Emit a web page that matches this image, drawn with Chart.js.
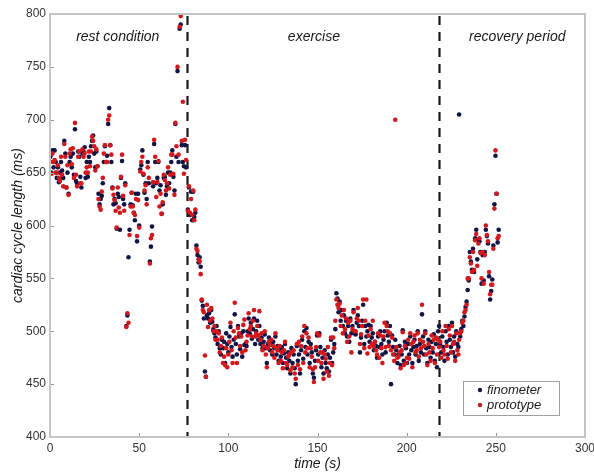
<!DOCTYPE html>
<html><head><meta charset="utf-8">
<script src="https://cdn.jsdelivr.net/npm/chart.js@4.4.1/dist/chart.umd.min.js"></script>
<style>html,body{margin:0;padding:0;background:#fff}#wrap{width:594px;height:475px;position:relative}</style>
</head><body><div id="wrap"><canvas id="c" width="594" height="475"></canvas></div>
<script>
// time (s) of each cardiac cycle
const time = [
// rest
0.2,0.8,1.4,2.0,2.6,3.2,3.8,4.4,
5.0,5.6,6.2,6.8,7.4,8.0,8.6,9.2,
9.8,10.4,11.0,11.6,12.2,12.8,13.4,14.0,
14.6,15.2,15.8,16.4,17.0,17.6,18.2,18.8,
19.4,20.0,20.6,21.2,21.8,22.4,23.0,23.6,
24.2,24.8,25.4,26.0,26.6,27.2,27.8,28.4,
29.0,29.6,30.2,30.8,31.4,32.0,32.6,33.2,
33.8,34.4,35.0,35.6,36.2,36.8,37.4,38.0,
38.6,39.2,39.8,40.4,41.0,41.6,42.2,42.8,
43.4,44.0,44.6,45.2,45.8,46.4,47.0,47.6,
48.2,48.8,49.4,50.0,50.6,51.2,51.8,52.4,
53.0,53.6,54.2,54.8,55.4,56.0,56.6,57.2,
57.8,58.4,59.0,59.6,60.2,60.8,61.4,62.0,
62.6,63.2,63.8,64.4,65.0,65.6,66.2,66.8,
67.4,68.0,68.6,69.2,69.8,70.3,70.9,71.5,
72.1,72.7,73.3,73.9,74.5,75.1,75.7,76.3,
// exercise
77.3,77.9,78.5,79.1,79.7,80.3,80.9,81.5,
82.1,82.7,83.3,83.9,84.5,85.1,85.7,86.3,
86.9,87.4,88.0,88.6,89.2,89.8,90.4,91.0,
91.6,92.2,92.8,93.4,94.0,94.6,95.2,95.8,
96.4,97.0,97.6,98.2,98.8,99.4,100.0,100.6,
101.2,101.8,102.4,103.0,103.6,104.2,104.8,105.4,
106.0,106.6,107.2,107.8,108.4,109.0,109.6,110.2,
110.8,111.4,112.0,112.6,113.2,113.8,114.4,115.0,
115.6,116.2,116.8,117.4,118.0,118.6,119.2,119.8,
120.4,121.0,121.6,122.2,122.8,123.4,124.0,124.6,
125.2,125.8,126.4,127.0,127.6,128.2,128.8,129.4,
130.0,130.6,131.2,131.8,132.4,133.0,133.6,134.2,
134.8,135.4,136.0,136.6,137.2,137.8,138.4,139.0,
139.6,140.2,140.8,141.4,142.0,142.6,143.2,143.8,
144.4,145.0,145.6,146.2,146.8,147.4,148.0,148.6,
149.2,149.8,150.4,151.0,151.6,152.2,152.8,153.4,
154.0,154.6,155.2,155.8,156.4,157.0,157.6,158.2,
158.8,159.4,160.0,160.6,161.2,161.8,162.4,163.0,
163.6,164.2,164.8,165.4,166.0,166.6,167.2,167.8,
168.4,169.0,169.6,170.2,170.8,171.4,172.0,172.6,
173.2,173.8,174.4,175.0,175.6,176.2,176.8,177.4,
178.0,178.6,179.2,179.8,180.4,181.0,181.6,182.2,
182.8,183.4,184.0,184.6,185.2,185.8,186.4,187.0,
187.6,188.2,188.8,189.4,190.0,190.6,191.2,191.8,
192.4,193.0,193.6,194.2,194.8,195.4,196.0,196.6,
197.2,197.8,198.4,199.0,199.6,200.2,200.8,201.4,
202.0,202.6,203.2,203.8,204.4,205.0,205.6,206.2,
206.8,207.4,208.0,208.6,209.2,209.8,210.4,211.0,
211.6,212.2,212.8,213.4,214.0,214.6,215.2,215.8,
216.4,217.0,217.6,
// recovery
218.2,218.8,219.4,220.0,220.6,221.2,221.8,222.4,
223.0,223.6,224.2,224.8,225.4,226.0,226.6,227.2,
227.8,228.4,229.0,229.4,230.0,230.6,231.2,231.8,
232.4,233.0,233.6,234.2,234.8,235.4,236.0,236.6,
237.2,237.8,238.4,239.0,239.6,240.2,240.8,241.4,
242.0,242.6,243.2,243.8,244.4,245.0,245.6,246.2,
246.8,247.4,248.0,248.6,249.2,249.8,250.4,251.0,
251.6
];

// cardiac cycle length (ms), finometer
const finometer = [
665,650,671,655,671,660,645,655,
641,650,660,652,645,680,668,636,
650,630,660,665,655,668,648,691,
642,640,670,665,646,636,668,670,
674,645,660,646,665,660,675,680,
685,668,655,670,656,630,620,625,
628,640,660,675,660,666,696,711,
676,660,636,620,625,621,597,630,
627,596,645,661,625,620,640,505,
515,570,596,620,631,619,612,605,
630,585,630,600,653,657,671,648,
631,640,625,660,640,566,580,599,
637,677,660,640,645,660,633,638,
611,620,645,646,629,637,650,640,
650,660,671,646,633,696,665,746,
660,786,790,676,660,656,676,655,
615,636,610,632,605,632,608,612,
581,572,565,570,561,529,524,512,
462,457,515,512,517,508,520,509,
502,498,494,505,488,500,484,478,
492,484,490,470,498,488,480,495,
504,485,476,492,516,488,478,505,
495,483,498,476,500,487,488,486,
500,512,498,508,493,502,512,488,
500,510,492,505,488,494,484,490,
497,484,470,488,494,482,488,478,
490,484,495,478,486,472,482,476,
485,470,479,488,475,465,480,472,
460,484,470,478,465,450,486,472,
478,460,482,492,474,500,485,503,
478,490,470,488,480,460,456,472,
482,496,478,498,485,466,475,460,
482,470,465,478,462,475,492,470,
480,488,502,536,531,518,528,510,
520,505,515,498,510,495,505,490,
512,498,505,520,498,497,508,515,
505,480,494,510,525,488,505,495,
500,506,490,505,494,498,482,490,
486,475,495,485,500,488,478,492,
500,480,508,496,490,505,450,496,
485,478,492,482,470,478,486,468,
478,501,472,490,484,470,488,478,
495,482,470,485,492,478,486,500,
472,488,480,516,495,478,500,484,
470,492,485,475,490,480,497,472,
488,466,500,
505,488,480,495,485,472,500,490,
478,505,492,485,508,480,495,476,
500,488,485,705,495,502,510,505,
514,523,528,539,548,575,566,558,
578,556,588,596,568,586,585,575,
545,572,548,575,596,590,583,552,
530,538,549,581,620,666,630,584,
596
];

// cardiac cycle length (ms), prototype
const prototypeValues = [
660,649,668,660,662,650,650,657,
645,642,665,648,637,677,665,636,
657,629,668,672,658,673,645,697,
648,637,665,670,640,640,672,665,
668,650,655,650,670,656,670,684,
680,675,652,672,656,625,618,615,
632,645,668,676,660,660,700,704,
676,667,635,629,624,614,598,636,
617,612,646,667,628,614,638,504,
517,508,591,618,631,618,612,610,
625,590,624,598,651,660,665,649,
633,638,620,655,645,564,588,591,
641,681,665,627,641,661,618,630,
611,622,648,643,633,640,655,635,
648,667,667,649,629,697,675,750,
667,788,798,680,717,649,681,662,
614,637,612,625,610,633,605,615,
578,576,568,566,554,530,520,518,
477,457,525,504,520,510,522,512,
500,505,492,500,492,498,480,486,
494,470,476,468,484,466,478,490,
508,482,470,500,527,494,470,503,
498,486,495,480,506,511,482,490,
496,517,502,505,495,510,520,495,
498,505,496,519,492,498,482,486,
500,478,466,484,490,487,492,480,
486,475,498,484,482,470,486,472,
480,465,482,490,470,468,476,478,
463,480,466,482,460,455,488,468,
490,464,486,495,470,505,480,498,
484,494,466,484,476,464,452,466,
485,498,472,496,480,470,480,455,
478,474,462,485,458,470,494,468,
494,484,510,530,525,522,526,505,
515,498,520,502,512,490,508,495,
510,480,502,518,500,500,512,522,
510,488,497,505,530,484,510,530,
479,496,485,502,488,510,486,490,
482,478,498,475,496,484,470,495,
508,485,505,500,486,498,482,494,
478,472,700,485,475,476,480,465,
482,499,468,486,470,475,492,474,
498,488,466,490,496,480,482,498,
476,492,484,525,490,486,498,478,
468,488,480,472,496,484,492,470,
494,478,492,
485,490,475,500,482,478,505,486,
474,502,496,480,505,488,490,472,
498,482,478,492,498,500,508,510,
518,520,525,550,550,570,564,556,
575,558,586,592,562,583,588,574,
550,575,545,572,600,591,585,556,
535,544,544,578,616,671,630,588,
590
];

const seriesNames = ['finometer', 'prototype'];
const phaseBoundaries = [77, 218];
const phaseLabels = ['rest condition', 'exercise', 'recovery period'];
const phaseLabelX = [38, 148, 262];
const phaseLabelY = 778;
const xTickValues = [0, 50, 100, 150, 200, 250, 300];
const yTickValues = [400, 450, 500, 550, 600, 650, 700, 750, 800];

const COLORS = ['#111545', '#d3181c'];
const FONT = "'Liberation Sans', Arial, sans-serif";

const n = Math.min(time.length, finometer.length, prototypeValues.length);
const toPts = vals => time.slice(0, n).map((t, i) => ({x: t, y: vals[i]}));

const decor = {
  id: 'decor',
  beforeDatasetsDraw(chart) {
    const {ctx, chartArea: a, scales: {x, y}} = chart;
    ctx.save();
    // phase boundaries
    ctx.strokeStyle = '#1a1a1a';
    ctx.lineWidth = 2.2;
    ctx.setLineDash([9, 7]);
    phaseBoundaries.forEach(b => {
      const px = Math.round(x.getPixelForValue(b)) + 0.5;
      ctx.beginPath();
      ctx.moveTo(px, a.top + 2);
      ctx.lineTo(px, a.bottom);
      ctx.stroke();
    });
    ctx.setLineDash([]);
    // phase labels
    ctx.fillStyle = '#1a1a1a';
    ctx.font = 'italic 14px ' + FONT;
    ctx.textAlign = 'center';
    ctx.textBaseline = 'middle';
    phaseLabels.forEach((lbl, i) => {
      ctx.fillText(lbl, x.getPixelForValue(phaseLabelX[i]), y.getPixelForValue(phaseLabelY));
    });
    ctx.restore();
  },
  afterDraw(chart) {
    const {ctx, chartArea: a, scales: {x, y}} = chart;
    ctx.save();
    // inner tick marks
    ctx.strokeStyle = '#9a9a9a';
    ctx.lineWidth = 1;
    xTickValues.forEach(v => {
      const px = Math.round(x.getPixelForValue(v)) + 0.5;
      ctx.beginPath(); ctx.moveTo(px, a.bottom); ctx.lineTo(px, a.bottom - 4); ctx.stroke();
    });
    yTickValues.forEach(v => {
      const py = Math.round(y.getPixelForValue(v)) + 0.5;
      ctx.beginPath(); ctx.moveTo(a.left, py); ctx.lineTo(a.left + 4, py); ctx.stroke();
    });
    // frame
    ctx.strokeStyle = '#c4c4c4';
    ctx.lineWidth = 2;
    ctx.strokeRect(a.left, a.top, a.right - a.left, a.bottom - a.top);
    // legend box
    const lx = a.right - 122, ly = a.bottom - 56, lw = 96, lh = 34;
    ctx.fillStyle = '#ffffff';
    ctx.fillRect(lx, ly, lw, lh);
    ctx.strokeStyle = '#a0a0a0';
    ctx.lineWidth = 1;
    ctx.strokeRect(lx + 0.5, ly + 0.5, lw, lh);
    ctx.font = 'italic 13px ' + FONT;
    ctx.textAlign = 'left';
    ctx.textBaseline = 'middle';
    chart.data.datasets.forEach((ds, i) => {
      const cy = ly + 9 + i * 15;
      ctx.fillStyle = ds.backgroundColor;
      ctx.beginPath(); ctx.arc(lx + 17, cy, 2.2, 0, Math.PI * 2); ctx.fill();
      ctx.fillStyle = '#1a1a1a';
      ctx.fillText(ds.label, lx + 24, cy);
    });
    ctx.restore();
  }
};

new Chart(document.getElementById('c'), {
  type: 'scatter',
  data: {
    datasets: [
      {label: seriesNames[0], data: toPts(finometer), backgroundColor: COLORS[0], borderWidth: 0, pointRadius: 2.3, order: 1},
      {label: seriesNames[1], data: toPts(prototypeValues), backgroundColor: COLORS[1], borderWidth: 0, pointRadius: 2.3, order: 0}
    ]
  },
  options: {
    responsive: false,
    animation: false,
    devicePixelRatio: 1,
    layout: {padding: {top: 14, right: 9, left: 0, bottom: 0}},
    plugins: {legend: {display: false}, tooltip: {enabled: false}},
    scales: {
      x: {
        type: 'linear', min: 0, max: 300,
        afterBuildTicks: s => { s.ticks = xTickValues.map(v => ({value: v})); },
        ticks: {color: '#333', font: {family: FONT, size: 12}, padding: 4, maxRotation: 0},
        grid: {display: false, drawTicks: false},
        border: {display: false},
        title: {display: true, text: 'time (s)', color: '#1a1a1a', font: {family: FONT, size: 14, style: 'italic'}, padding: {top: 0, bottom: 2}},
        afterFit: s => { s.height = 38; s.paddingLeft = 0; s.paddingRight = 0; }
      },
      y: {
        type: 'linear', min: 400, max: 800,
        afterBuildTicks: s => { s.ticks = yTickValues.map(v => ({value: v})); },
        ticks: {color: '#333', font: {family: FONT, size: 12}, padding: 4},
        grid: {display: false, drawTicks: false},
        border: {display: false},
        title: {display: true, text: 'cardiac cycle length (ms)', color: '#1a1a1a', font: {family: FONT, size: 14, style: 'italic'}, padding: {top: 10, bottom: 0}},
        afterFit: s => { s.width = 50; }
      }
    }
  },
  plugins: [decor]
});
</script>
</body></html>
